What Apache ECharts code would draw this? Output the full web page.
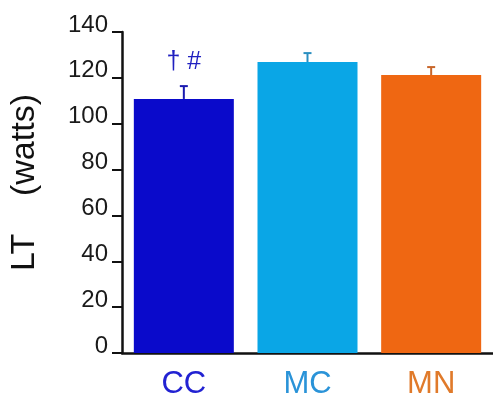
<!DOCTYPE html>
<html>
<head>
<meta charset="utf-8">
<script src="https://cdn.jsdelivr.net/npm/echarts@6/dist/echarts.min.js"></script>
<style>
html,body{margin:0;padding:0;background:#fff;}
#c{width:493px;height:402px;}
</style>
</head>
<body>
<div id="c"></div>
<script>
var categories = ['CC', 'MC', 'MN'];
var values = [110.8, 126.9, 121.2];
var errors = [5.6, 3.9, 3.5];
var yTicks = [0, 20, 40, 60, 80, 100, 120, 140];
var annotations = ['† #', '', ''];

var barColors = ['#0a0acb', '#0aa6e6', '#ef6712'];
var errColors = ['#1a1ab0', '#2b8fc0', '#c8662a'];
var labelColors = ['#2222d2', '#2a93d8', '#e07a2a'];

var FONT = 'Liberation Sans, Arial, sans-serif';
var chart = echarts.init(document.getElementById('c'), null, {renderer: 'canvas'});

var barData = values.map(function (v, i) {
  var item = {value: v, itemStyle: {color: barColors[i]}};
  if (annotations[i]) {
    item.label = {
      show: true, position: 'top', distance: 24, formatter: annotations[i],
      color: '#2020c0', fontSize: 25, fontFamily: FONT
    };
  }
  return item;
});

var errData = values.map(function (v, i) { return [i, v, v + errors[i]]; });

chart.setOption({
  animation: false,
  grid: {left: 121, top: 32, width: 374, height: 321},
  xAxis: {
    type: 'category',
    data: categories,
    axisLine: {lineStyle: {color: '#111', width: 2.5}},
    axisTick: {show: false},
    axisLabel: {
      interval: 0,
      hideOverlap: false,
      margin: 16,
      fontSize: 31,
      fontFamily: FONT,
      formatter: function (v) { return '{c' + categories.indexOf(v) + '|' + v + '}'; },
      rich: {
        c0: {color: labelColors[0], fontSize: 31, fontFamily: FONT},
        c1: {color: labelColors[1], fontSize: 31, fontFamily: FONT},
        c2: {color: labelColors[2], fontSize: 31, fontFamily: FONT}
      }
    }
  },
  yAxis: {
    type: 'value',
    min: yTicks[0],
    max: yTicks[yTicks.length - 1],
    interval: 20,
    name: 'LT    (watts)',
    nameLocation: 'middle',
    nameGap: 80,
    nameTextStyle: {fontSize: 34, color: '#111', fontFamily: FONT, padding: [0, 0, 0, 20]},
    axisLine: {show: true, lineStyle: {color: '#111', width: 2.5}},
    axisTick: {show: true, length: 10, lineStyle: {color: '#111', width: 2}},
    splitLine: {show: false},
    axisLabel: {
      margin: 14,
      fontSize: 24,
      color: '#1a1a1a',
      fontFamily: FONT,
      verticalAlign: 'bottom',
      lineHeight: 14
    }
  },
  series: [
    {
      type: 'bar',
      data: barData,
      barWidth: 100,
      z: 2
    },
    {
      type: 'custom',
      z: 3,
      data: errData,
      renderItem: function (params, api) {
        var i = api.value(0);
        var lo = api.coord([i, api.value(1)]);
        var hi = api.coord([i, api.value(2)]);
        var c = errColors[params.dataIndex];
        return {
          type: 'group',
          children: [
            {type: 'line', shape: {x1: lo[0], y1: lo[1], x2: hi[0], y2: hi[1]}, style: {stroke: c, lineWidth: 2}},
            {type: 'line', shape: {x1: hi[0] - 4, y1: hi[1], x2: hi[0] + 4, y2: hi[1]}, style: {stroke: c, lineWidth: 2}}
          ]
        };
      }
    }
  ]
});
</script>
</body>
</html>
